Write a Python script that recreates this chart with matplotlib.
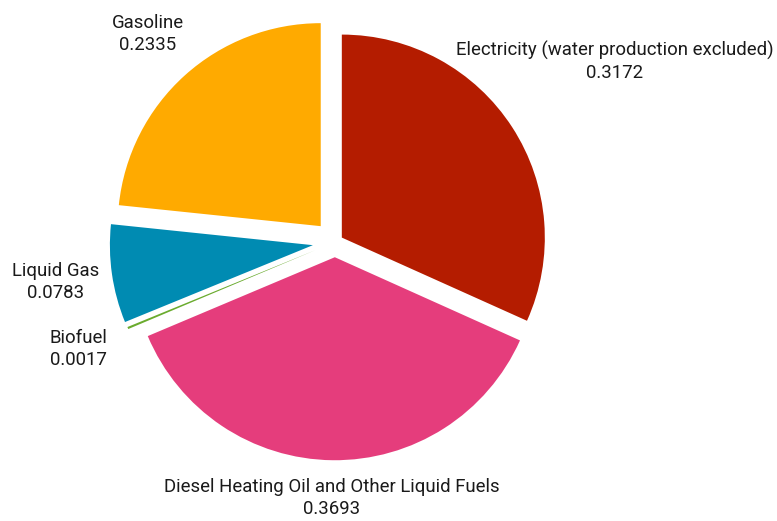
import numpy as np
import matplotlib
matplotlib.use("Agg")
import matplotlib.pyplot as plt

categories = ["Electricity (water production excluded)",
              "Diesel Heating Oil and Other Liquid Fuels",
              "Biofuel", "Liquid Gas", "Gasoline"]
values = [0.3172, 0.3693, 0.0017, 0.0783, 0.2335]
colors = ["#b41c00", "#e53d7c", "#6aab2e", "#008bb2", "#ffaa00"]
explode = [0.04, 0.075, 0.105, 0.11, 0.105]
label_dist = [1.64, 1.26, 1.37, 1.39, 1.38]

plt.rcParams['font.family'] = ['Roboto', 'DejaVu Sans']

W, H = 777, 521
fig = plt.figure(figsize=(W / 100, H / 100), dpi=100)
ax = fig.add_axes([0, 0, 1, 1])
R = 203.0
cx, cy = 335.0, 242.0

wedges, _ = ax.pie(values, colors=colors, explode=explode, startangle=90,
                   counterclock=False, radius=1.0, center=(0, 0),
                   wedgeprops=dict(linewidth=0), frame=False)
ax.set_aspect('equal')
ax.set_xlim(-cx / R, (W - cx) / R)
ax.set_ylim(-(H - cy) / R, cy / R)
ax.axis('off')

for w, cat, v, d in zip(wedges, categories, values, label_dist):
    mid = np.deg2rad((w.theta1 + w.theta2) / 2)
    ax.text(d * np.cos(mid), d * np.sin(mid), f"{cat}\n{v:.4f}",
            ha='center', va='center', fontsize=13.4, color='#1a1a1a',
            linespacing=1.3)

fig.savefig("out.png", dpi=100)
